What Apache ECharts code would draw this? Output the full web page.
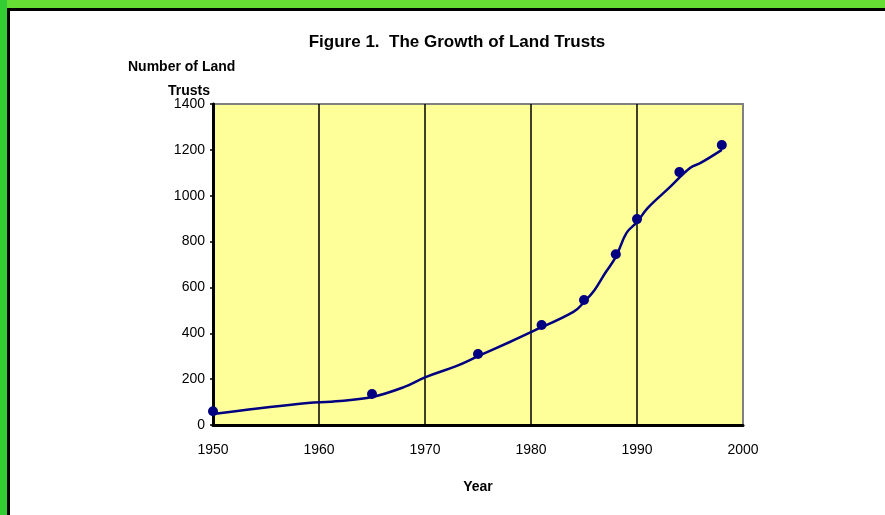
<!DOCTYPE html>
<html>
<head>
    <meta charset="utf-8">
    <script src="https://cdn.jsdelivr.net/npm/echarts@6/dist/echarts.min.js"></script>
    <style>
        html, body { margin: 0; padding: 0; background: #fff; }
    </style>
</head>
<body>
<div id="main" style="width: 885px;height:515px;"></div>
<script type="text/javascript">
    // measured points (markers)
    var pointYears = [1950, 1965, 1975, 1981, 1985, 1988, 1990, 1994, 1998];
    var pointCounts = [60, 135, 310, 436, 545, 745, 898, 1103, 1221];

    // smoothed trend line
    var lineYears = [1950, 1958, 1962, 1965, 1968, 1970, 1973, 1975, 1978, 1980, 1984, 1985, 1986, 1987, 1988, 1989, 1990, 1991, 1993, 1995, 1996, 1998];
    var lineCounts = [48, 92, 105, 122, 165, 208, 258, 300, 362, 405, 493, 536, 589, 663, 733, 837, 885, 946, 1033, 1121, 1143, 1200];

    var myChart = echarts.init(document.getElementById('main'));

    var pts = [], line = [];
    for (var i = 0; i < pointYears.length; i++) pts.push([pointYears[i], pointCounts[i]]);
    for (var j = 0; j < lineYears.length; j++) line.push([lineYears[j], lineCounts[j]]);

    var font = 'Liberation Sans, Arial, sans-serif';

    var option = {
        animation: false,
        title: {
            text: 'Figure 1.  The Growth of Land Trusts',
            left: 452,
            top: 29,
            textAlign: 'center',
            textStyle: { fontFamily: font, fontSize: 17, fontWeight: 'bold', color: '#000' }
        },
        graphic: [
            { type: 'rect', shape: { x: 0, y: 0, width: 885, height: 8 }, style: { fill: '#66dd33' } },
            { type: 'rect', shape: { x: 0, y: 0, width: 7, height: 515 }, style: { fill: '#33cc33' } },
            { type: 'rect', shape: { x: 7, y: 8, width: 878, height: 3 }, style: { fill: '#000' } },
            { type: 'rect', shape: { x: 7, y: 8, width: 3, height: 507 }, style: { fill: '#000' } },
            { type: 'text', left: 128, top: 60, style: { text: 'Number of Land', font: 'bold 14px ' + font, fill: '#000' } },
            { type: 'text', left: 168, top: 84, style: { text: 'Trusts', font: 'bold 14px ' + font, fill: '#000' } }
        ],
        grid: {
            left: 213, right: 142, top: 104, bottom: 90,
            show: true,
            backgroundColor: '#ffff99',
            borderColor: '#808080',
            borderWidth: 2
        },
        xAxis: {
            type: 'value',
            min: 1950, max: 2000, interval: 10,
            name: 'Year',
            nameLocation: 'middle',
            nameGap: 55,
            nameTextStyle: { fontFamily: font, fontSize: 14, fontWeight: 'bold', color: '#000' },
            axisLine: { lineStyle: { color: '#000', width: 3 } },
            axisTick: { show: false },
            axisLabel: {
                fontFamily: font, fontSize: 14, color: '#000', margin: 18,
                formatter: function (v) { return String(v); }
            },
            splitLine: {
                show: true,
                // 1950 hidden under y axis, 2000 matches the grey frame
                lineStyle: { color: ['#000', '#000', '#000', '#000', '#000', '#808080'], width: 1.5 }
            }
        },
        yAxis: {
            type: 'value',
            min: 0, max: 1400, interval: 200,
            axisLine: { show: true, lineStyle: { color: '#000', width: 3 } },
            axisTick: { show: true, length: 3, lineStyle: { color: '#000', width: 1.5 } },
            axisLabel: {
                fontFamily: font, fontSize: 14, color: '#000', margin: 8,
                formatter: function (v) { return String(v); }
            },
            splitLine: { show: false }
        },
        series: [
            {
                type: 'line',
                data: line,
                smooth: 0.4,
                showSymbol: false,
                lineStyle: { color: '#000080', width: 2.5 },
                z: 3
            },
            {
                type: 'scatter',
                data: pts,
                symbolSize: 10,
                itemStyle: { color: '#000080', opacity: 1 },
                z: 4
            }
        ]
    };

    myChart.setOption(option);
</script>
</body>
</html>
